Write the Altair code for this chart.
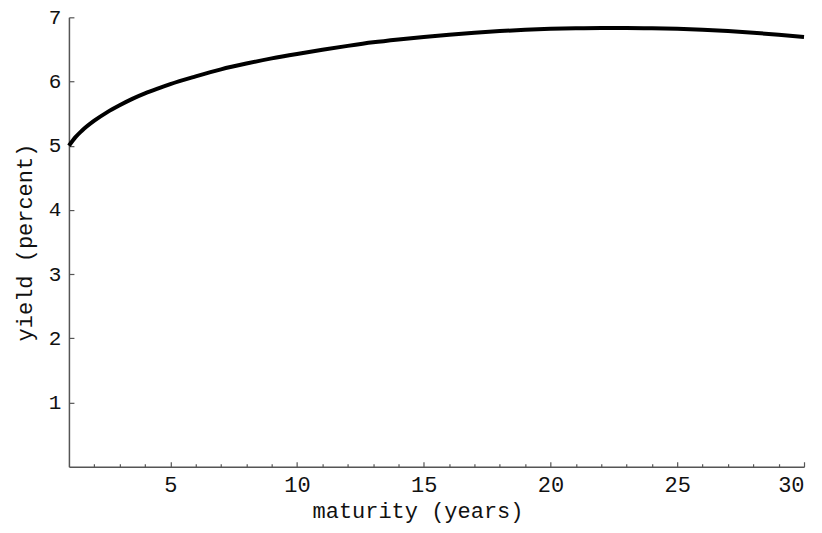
import altair as alt
import pandas as pd

maturity = [1, 1.25, 1.5, 2, 2.5, 3, 3.5, 4, 4.5, 5, 6, 7, 8, 9, 10, 11, 12, 13,
            14, 15, 16, 17, 18, 19, 20, 21, 22, 23, 24, 25, 26, 27, 28, 29, 30]
yields = [5.00, 5.13, 5.23, 5.39, 5.52, 5.63, 5.73, 5.815, 5.89, 5.96, 6.08,
          6.19, 6.28, 6.36, 6.43, 6.495, 6.555, 6.61, 6.655, 6.695, 6.73, 6.76,
          6.785, 6.805, 6.82, 6.83, 6.835, 6.835, 6.83, 6.82, 6.805, 6.785,
          6.76, 6.73, 6.695]
x_major = [5, 10, 15, 20, 25, 30]
x_minor = [v for v in range(2, 30) if v % 5 != 0]
y_major = [1, 2, 3, 4, 5, 6, 7]

df = pd.DataFrame({"maturity": maturity, "yield": yields})

FONT = "Liberation Mono"
AX = "#555555"
xscale = alt.Scale(domain=[1, 30], nice=False, zero=False)
yscale = alt.Scale(domain=[0, 7], nice=False, zero=True)

base = alt.Chart(df)

line = base.mark_line(color="black", strokeWidth=4, interpolate="monotone").encode(
    x=alt.X("maturity:Q", scale=xscale,
            axis=alt.Axis(values=x_major, ticks=False, grid=False, domainColor=AX,
                          domainWidth=1.5, labelFont=FONT, labelFontSize=22,
                          labelColor="#111", labelPadding=8, title="maturity (years)",
                          titleFont=FONT, titleFontSize=22, titleFontWeight="normal",
                          titleColor="#111", titlePadding=5, titleX=349)),
    y=alt.Y("yield:Q", scale=yscale,
            axis=alt.Axis(values=y_major, ticks=False, grid=False, domainColor=AX,
                          domainWidth=1.5, labelFont=FONT, labelFontSize=21,
                          labelColor="#111", labelPadding=8, title="yield (percent)",
                          titleFont=FONT, titleFontSize=22, titleFontWeight="normal",
                          titleColor="#111", titlePadding=12)),
)

xmaj = base.mark_line(opacity=0).encode(
    x=alt.X("maturity:Q", scale=xscale,
            axis=alt.Axis(values=x_major, orient="bottom", offset=-5, tickSize=5,
                          tickColor=AX, tickWidth=1.2, domain=False, labels=False,
                          grid=False, title=None)),
    y=alt.Y("yield:Q", scale=yscale, axis=None),
)
xmin = base.mark_line(opacity=0).encode(
    x=alt.X("maturity:Q", scale=xscale,
            axis=alt.Axis(values=x_minor, orient="bottom", offset=-3, tickSize=3,
                          tickColor=AX, tickWidth=1.2, domain=False, labels=False,
                          grid=False, title=None)),
    y=alt.Y("yield:Q", scale=yscale, axis=None),
)
ymaj = base.mark_line(opacity=0).encode(
    x=alt.X("maturity:Q", scale=xscale, axis=None),
    y=alt.Y("yield:Q", scale=yscale,
            axis=alt.Axis(values=y_major, orient="left", offset=-5, tickSize=5,
                          tickColor=AX, tickWidth=1.2, domain=False, labels=False,
                          grid=False, title=None)),
)

chart = alt.layer(line, xmaj, xmin, ymaj).resolve_axis(
    x="independent", y="independent"
).properties(
    width=736, height=450,
    autosize=alt.AutoSizeParams(type="none"),
    padding={"left": 61, "top": 9, "right": 10, "bottom": 62},
).configure_view(stroke=None)

chart.save("out.html", embed_options={"renderer": "svg", "actions": False})
